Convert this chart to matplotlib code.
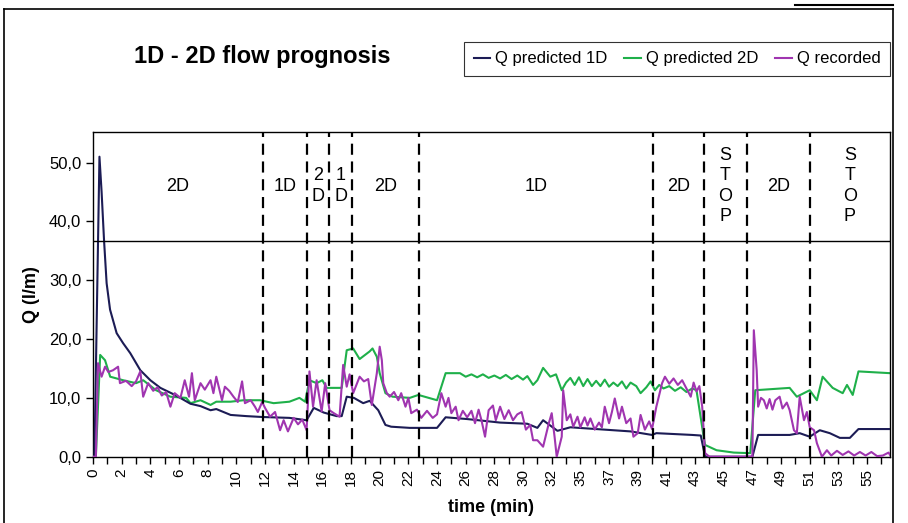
import numpy as np
import matplotlib
matplotlib.use("Agg")
import matplotlib.pyplot as plt
from matplotlib.lines import Line2D

plt.rcParams['font.family'] = ['Liberation Sans', 'DejaVu Sans']

# x is the category position on the time axis (Excel style line chart)
pred1d_x = [0, 0.1, 0.45, 0.6, 0.77, 0.95, 1.19, 1.65, 2.1, 2.6, 3.3, 4.0, 4.7, 5.8, 6.8, 7.5, 8.2, 8.6,
            9.6, 10.7, 11.8, 13.7, 14.9, 15.4, 16.1, 17.0, 17.35, 17.7, 18.2, 18.85, 19.3, 19.9, 20.4,
            20.8, 22.1, 24.0, 24.6, 26.1, 28.4, 30.3, 30.5, 31.0, 31.4, 32.4, 33.3, 35.1, 37.5, 39.0,
            39.3, 41.8, 42.4, 42.7, 46.0, 46.4, 48.6, 49.3, 50.0, 50.7, 51.4, 52.1, 52.8, 53.0, 53.4, 55.6]
pred1d_q = [0, 0, 51.0, 45.0, 36.8, 29.5, 25.0, 21.0, 19.3, 17.6, 14.7, 13.0, 11.7, 10.4, 9.0, 8.6, 7.9, 8.1,
            7.1, 6.9, 6.75, 6.6, 6.2, 8.3, 7.5, 6.9, 6.9, 10.2, 10.0, 9.1, 9.5, 7.9, 5.4,
            5.1, 4.9, 4.9, 6.7, 6.4, 5.8, 5.6, 5.4, 4.9, 6.2, 4.4, 5.0, 4.7, 4.3, 3.7,
            4.0, 3.7, 3.6, 0, 0, 3.7, 3.7, 4.0, 3.4, 4.5, 4.0, 3.2, 3.2, 3.7, 4.7, 4.7]

pred2d_x = [0, 0.2, 0.5, 0.84, 1.2, 2.1, 3.0, 3.5, 4.4, 5.4, 6.5, 6.8, 7.5, 8.2, 8.6, 9.6, 10.5, 11.65,
            12.6, 13.7, 14.4, 14.8, 15.1, 15.6, 16.0, 16.3, 17.35, 17.7, 18.15, 18.6, 19.3, 19.5, 19.8,
            20.0, 20.4, 20.9, 22.1, 22.7, 24.0, 24.6, 25.6, 26.0, 26.4, 26.8, 27.2, 27.6, 28.0, 28.4,
            28.8, 29.2, 29.6, 30.0, 30.3, 30.7, 31.0, 31.4, 31.9, 32.3, 32.7, 33.0, 33.3, 33.6, 33.9,
            34.2, 34.5, 34.8, 35.1, 35.4, 35.7, 36.0, 36.3, 36.6, 36.9, 37.2, 37.5, 37.9, 38.2, 38.6,
            38.9, 39.2, 39.5, 39.8, 40.2, 40.6, 41.0, 41.4, 41.8, 42.1, 42.6, 42.7, 43.5, 44.7, 45.85,
            46.2, 48.6, 49.1, 50.0, 50.5, 50.9, 51.6, 52.3, 52.6, 53.0, 53.4, 55.6]
pred2d_q = [0, 0, 17.3, 16.4, 13.6, 13.0, 12.5, 13.0, 11.3, 10.2, 10.0, 9.1, 9.6, 8.8, 9.35, 9.35, 9.6, 9.6,
            9.1, 9.35, 10.0, 9.35, 13.0, 12.5, 13.0, 11.7, 11.7, 18.1, 18.4, 16.6, 17.9, 18.4, 17.0,
            14.2, 10.8, 10.2, 10.0, 10.5, 9.6, 14.2, 14.2, 13.6, 14.0, 13.5, 14.0, 13.4, 13.8, 13.3,
            13.9, 13.2, 13.8, 13.1, 13.7, 12.2, 13.0, 15.1, 13.6, 14.0, 11.3, 12.6, 13.4, 12.2, 13.5,
            12.0, 13.2, 12.0, 12.9, 12.0, 13.1, 11.9, 12.6, 12.0, 12.8, 11.6, 12.6, 12.0, 10.8, 11.8,
            12.8, 11.3, 12.2, 11.6, 12.0, 11.2, 11.8, 11.0, 11.6, 11.3, 3.4, 2.0, 1.1, 0.7, 0.6,
            11.3, 11.7, 10.2, 11.3, 9.6, 13.6, 11.7, 10.8, 12.2, 10.5, 14.5, 14.2]

rec_x = [0, 0.2, 0.35, 0.6, 0.84, 1.07, 1.4, 1.75, 1.88, 2.3, 2.7, 3.0, 3.3, 3.5, 3.85, 4.2, 4.5, 4.8,
         5.1, 5.4, 5.7, 6.1, 6.4, 6.7, 6.9, 7.1, 7.5, 7.8, 8.2, 8.4, 8.6, 9.0, 9.2, 9.5, 9.8, 10.1,
         10.4, 10.6, 11.0, 11.3, 11.5, 11.8, 12.0, 12.35, 12.7, 13.05, 13.3, 13.6, 14.0, 14.3, 14.6,
         14.9, 15.1, 15.35, 15.6, 15.95, 16.2, 16.5, 16.8, 17.2, 17.45, 17.7, 17.9, 18.15, 18.6, 18.9,
         19.2, 19.45, 19.8, 20.0, 20.15, 20.25, 20.5, 20.7, 21.0, 21.3, 21.5, 21.8, 22.0, 22.2, 22.6,
         22.9, 23.3, 23.7, 24.0, 24.3, 24.6, 24.8, 25.0, 25.3, 25.5, 25.8, 26.1, 26.4, 26.65, 26.9,
         27.1, 27.35, 27.6, 27.9, 28.1, 28.4, 28.7, 29.0, 29.3, 29.6, 29.9, 30.2, 30.5, 30.7, 31.0,
         31.4, 31.8, 32.0, 32.2, 32.35, 32.7, 32.8, 33.05, 33.3, 33.5, 33.8, 34.0, 34.3, 34.5, 34.7,
         35.0, 35.3, 35.5, 35.7, 36.0, 36.2, 36.4, 36.7, 36.9, 37.2, 37.5, 37.7, 38.0, 38.2, 38.5,
         38.8, 39.0, 39.3, 39.7, 39.9, 40.2, 40.5, 40.8, 41.1, 41.4, 41.7, 41.9, 42.1, 42.3, 42.5,
         42.7, 43.0, 46.0, 46.1, 46.3, 46.4, 46.6, 46.8, 47.0, 47.2, 47.4, 47.6, 47.9, 48.1, 48.4,
         48.6, 48.9, 49.1, 49.3, 49.6, 49.8, 50.0, 50.3, 50.5, 50.85, 51.2, 51.5, 51.9, 52.3, 52.7,
         53.1, 53.5, 53.9, 54.3, 54.7, 55.1, 55.5, 55.6]
rec_q = [0, 0, 15.9, 13.6, 15.3, 14.4, 14.7, 15.3, 12.5, 12.9, 12.0, 12.8, 14.5, 10.2, 12.5, 11.2, 11.8, 10.4,
         11.0, 8.5, 10.8, 10.0, 13.0, 10.2, 14.2, 9.6, 12.5, 11.4, 13.0, 10.8, 13.6, 9.6, 11.9, 11.2, 10.2, 9.3,
         12.8, 9.1, 9.6, 8.5, 7.6, 9.3, 8.3, 6.8, 7.6, 4.5, 6.2, 4.3, 6.6, 5.5, 6.3,
         4.5, 14.5, 8.5, 13.0, 7.7, 12.5, 7.9, 7.4, 6.8, 15.6, 11.9, 14.0, 10.8, 13.6, 12.8,
         13.2, 8.8, 14.2, 18.7, 16.4, 12.5, 10.8, 10.2, 11.0, 9.6, 10.8, 8.5, 10.0, 7.4, 8.0,
         6.6, 7.8, 6.6, 7.2, 10.8, 8.5, 10.0, 7.4, 8.5, 6.2, 7.8, 6.7, 7.8, 5.7, 8.0,
         6.2, 3.4, 7.9, 8.7, 6.2, 8.5, 6.4, 7.9, 6.2, 7.2, 7.6, 4.6, 5.4, 2.8, 2.8,
         1.7, 5.7, 7.4, 3.4, 0, 3.4, 11.3, 6.2, 7.2, 5.1, 6.8, 5.0, 6.7, 5.3, 6.5,
         4.6, 5.8, 5.0, 8.5, 5.7, 7.6, 9.9, 6.5, 8.5, 5.7, 6.5, 3.4, 4.0, 7.1, 4.6,
         6.0, 4.7, 8.5, 12.5, 13.6, 12.4, 13.3, 12.2, 13.0, 11.6, 10.2, 12.6, 11.1, 12.0, 8.5,
         0.6, 0, 0, 21.5, 14.7, 8.5, 10.0, 9.6, 8.2, 9.8, 8.0, 9.6, 10.2, 8.2, 9.2,
         7.9, 4.5, 4.0, 10.2, 6.2, 7.6, 5.0, 4.5, 2.3, 0, 1.1, 0.2, 1.0, 0.3, 0.9,
         0.2, 0.8, 0.2, 0.8, 0.1, 0.2, 0.7, 0.3]

# phase boundaries and phase names
phase_bounds = [11.85, 14.96, 16.45, 18.1, 22.75, 39.1, 42.6, 45.6, 50.0]
phase_names = ['2D', '1D', '2\nD', '1\nD', '2D', '1D', '2D', 'S\nT\nO\nP', '2D', 'S\nT\nO\nP']
label_line = 36.7

tick_labels = ['0', '2', '4', '6', '8', '10', '12', '14', '16', '18', '20', '22', '24', '26', '28',
               '30', '32', '35', '37', '39', '41', '43', '45', '47', '49', '51', '53', '55']

X_END = 55.6
Y_TOP = 55.2

fig = plt.figure(figsize=(9.08, 5.23), dpi=100)
ax = fig.add_axes([93/908, 1 - 456.7/523, (890-93)/908, (456.7-132)/523])

c1d, c2d, crec = '#1c1c55', '#1fb04a', '#a035b0'
ax.plot(pred1d_x, pred1d_q, color=c1d, lw=1.5, label='Q predicted 1D', zorder=3)
ax.plot(pred2d_x, pred2d_q, color=c2d, lw=1.5, label='Q predicted 2D', zorder=2)
ax.plot(rec_x, rec_q, color=crec, lw=1.5, label='Q recorded', zorder=4)

for b in phase_bounds:
    ax.plot([b, b], [0, Y_TOP], color='black', lw=1.6, ls=(0, (5, 3)), zorder=5)
ax.axhline(label_line, color='black', lw=1.0, zorder=5)

edges = [0] + phase_bounds + [X_END]
for i, name in enumerate(phase_names):
    xc = (edges[i] + edges[i + 1]) / 2
    ax.text(xc, 46.0, name, ha='center', va='center', fontsize=13, linespacing=1.25)

ax.set_xlim(0, X_END)
ax.set_ylim(0, Y_TOP)
ax.set_xticks(np.arange(0, 56))
lbls = []
for i in range(56):
    lbls.append(tick_labels[i // 2] if i % 2 == 0 and i // 2 < len(tick_labels) else '')
ax.set_xticklabels(lbls, rotation=90, fontsize=11)
ax.set_yticks([0, 10, 20, 30, 40, 50])
ax.set_yticklabels(['0,0', '10,0', '20,0', '30,0', '40,0', '50,0'], fontsize=12)
ax.tick_params(direction='out', length=5, width=1, color='black')
for s in ax.spines.values():
    s.set_linewidth(1.0)
    s.set_color('black')

ax.set_xlabel('time (min)', fontsize=13, fontweight='bold', labelpad=10)
ax.set_ylabel('Q (l/m)', fontsize=13, fontweight='bold', labelpad=6)

fig.text(262/908, 1 - 57/523, '1D - 2D flow prognosis', fontsize=17, fontweight='bold',
         ha='center', va='center')
leg = fig.legend(loc='center', bbox_to_anchor=(677/908, 1 - 59/523), ncol=3, fontsize=12,
                 handlelength=1.0, handletextpad=0.3, columnspacing=1.0, frameon=True,
                 fancybox=False, borderpad=0.55)
leg.get_frame().set_edgecolor('black')
leg.get_frame().set_linewidth(0.8)

# outer chart frame
fig.add_artist(Line2D([4/908, 4/908], [0, 1 - 9/523], color='black', lw=1.2))
fig.add_artist(Line2D([4/908, 893/908], [1 - 9/523, 1 - 9/523], color='black', lw=1.2))
fig.add_artist(Line2D([893/908, 893/908], [0, 1 - 9/523], color='black', lw=1.2))
fig.add_artist(Line2D([795/908, 893/908], [1 - 5/523, 1 - 5/523], color='black', lw=1.5))

fig.savefig('out.png', dpi=100)
